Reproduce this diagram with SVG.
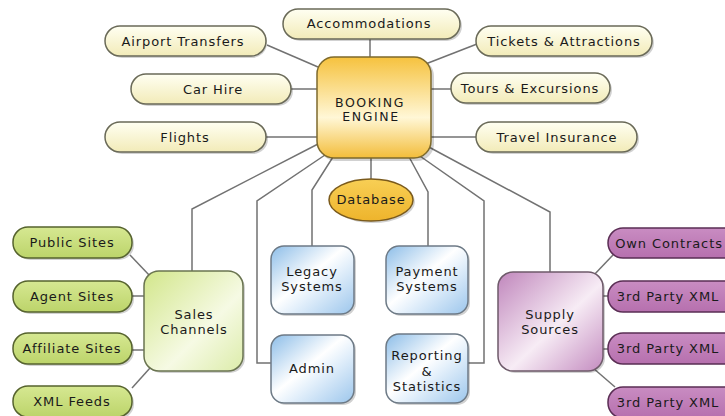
<svg xmlns="http://www.w3.org/2000/svg" width="725" height="416" viewBox="0 0 725 416">
<defs>
<linearGradient id="gPale" x1="0" y1="0" x2="0" y2="1"><stop offset="0" stop-color="#fffff2"/><stop offset="1" stop-color="#f2ebb8"/></linearGradient>
<linearGradient id="gEng" x1="0" y1="0" x2="0" y2="1"><stop offset="0" stop-color="#f6c23e"/><stop offset="0.6" stop-color="#fff7d6"/><stop offset="1" stop-color="#f3bd3a"/></linearGradient>
<linearGradient id="gDb" x1="0" y1="0" x2="0" y2="1"><stop offset="0" stop-color="#f8cf55"/><stop offset="1" stop-color="#eeb42c"/></linearGradient>
<linearGradient id="gGreen" x1="0" y1="0" x2="0" y2="1"><stop offset="0" stop-color="#d6e892"/><stop offset="1" stop-color="#bcd46a"/></linearGradient>
<linearGradient id="gSales" x1="0" y1="0" x2="1" y2="1"><stop offset="0" stop-color="#d2e68a"/><stop offset="0.6" stop-color="#f6fae4"/><stop offset="1" stop-color="#dcecaa"/></linearGradient>
<linearGradient id="gBlue" x1="0" y1="0" x2="1" y2="1"><stop offset="0" stop-color="#8cbde8"/><stop offset="0.45" stop-color="#ffffff"/><stop offset="0.6" stop-color="#e4f0fb"/><stop offset="1" stop-color="#9cc6ec"/></linearGradient>
<linearGradient id="gPurpleP" x1="0" y1="0" x2="0" y2="1"><stop offset="0" stop-color="#c98cc2"/><stop offset="1" stop-color="#b670ae"/></linearGradient>
<linearGradient id="gSupply" x1="0" y1="0" x2="1" y2="1"><stop offset="0" stop-color="#c086bc"/><stop offset="0.55" stop-color="#f7ecf5"/><stop offset="1" stop-color="#c48cc0"/></linearGradient>
</defs>
<style>
.c{fill:none;stroke:#727272;stroke-width:1.5}
.sh{fill:#000;opacity:0.18}
.pale{fill:url(#gPale);stroke:#6a6a58;stroke-width:1.5}
.green{fill:url(#gGreen);stroke:#56632e;stroke-width:1.5}
.purp{fill:url(#gPurpleP);stroke:#5a2e54;stroke-width:1.5}
.blue{fill:url(#gBlue);stroke:#6d7a86;stroke-width:1.5}
text{font-family:"DejaVu Sans",Verdana,sans-serif;font-size:13px;fill:#1a1a1a;text-anchor:middle;letter-spacing:0.9px}
.eng{font-size:12.5px;letter-spacing:1.6px}
</style>
<g id="connectors">
<line class="c" x1="267" y1="45" x2="318" y2="67"/>
<line class="c" x1="291" y1="89" x2="317" y2="89"/>
<line class="c" x1="266" y1="137" x2="317" y2="137"/>
<line class="c" x1="370" y1="39" x2="370" y2="57"/>
<line class="c" x1="423" y1="65" x2="477" y2="44"/>
<line class="c" x1="431" y1="89" x2="451" y2="89"/>
<line class="c" x1="431" y1="137" x2="476" y2="137"/>
<line class="c" x1="371" y1="158" x2="371" y2="179"/>
<polyline class="c" points="318,144 192,209 192,272"/>
<polyline class="c" points="325,155 257,201 257,363 271,363"/>
<polyline class="c" points="333,157 312,190 312,246"/>
<polyline class="c" points="408,155 428,192 428,246"/>
<polyline class="c" points="417,154 484,201 484,363 468,363"/>
<polyline class="c" points="427,146 550,212 550,272"/>
<line class="c" x1="130" y1="255" x2="150" y2="276"/>
<line class="c" x1="132" y1="296" x2="144" y2="296"/>
<line class="c" x1="132" y1="350" x2="144" y2="350"/>
<line class="c" x1="132" y1="388" x2="150" y2="368"/>
<line class="c" x1="592" y1="277" x2="613" y2="255"/>
<line class="c" x1="603" y1="296" x2="609" y2="296"/>
<line class="c" x1="603" y1="349" x2="609" y2="349"/>
<line class="c" x1="593" y1="368" x2="615" y2="387"/>
</g>
<g id="engine">
<rect class="sh" x="319" y="59" width="115" height="102" rx="17"/>
<rect x="317" y="57" width="114" height="101" rx="17" fill="url(#gEng)" stroke="#7e6a2c" stroke-width="1.5"/>
<text class="eng" x="370" y="107">BOOKING</text>
<text class="eng" x="371" y="121">ENGINE</text>
</g>
<g id="accommodations">
<rect class="sh" x="285" y="11" width="177" height="30" rx="15"/>
<rect class="pale" x="283" y="9" width="177" height="30" rx="15"/>
<text x="369" y="28">Accommodations</text>
</g>
<g id="airport">
<rect class="sh" x="107" y="28" width="160" height="30" rx="15"/>
<rect class="pale" x="105" y="26" width="161" height="30" rx="15"/>
<text x="183" y="46">Airport Transfers</text>
</g>
<g id="carhire">
<rect class="sh" x="133" y="76" width="160" height="30" rx="15"/>
<rect class="pale" x="131" y="74" width="160" height="30" rx="15"/>
<text x="213" y="94">Car Hire</text>
</g>
<g id="flights">
<rect class="sh" x="107" y="124" width="161" height="30" rx="15"/>
<rect class="pale" x="105" y="122" width="161" height="30" rx="15"/>
<text x="185" y="142">Flights</text>
</g>
<g id="tickets">
<rect class="sh" x="478" y="28" width="176" height="30" rx="15"/>
<rect class="pale" x="476" y="26" width="176" height="30" rx="15"/>
<text x="564" y="46">Tickets &amp; Attractions</text>
</g>
<g id="tours">
<rect class="sh" x="453" y="75" width="159" height="30" rx="15"/>
<rect class="pale" x="451" y="73" width="159" height="30" rx="15"/>
<text x="530" y="93">Tours &amp; Excursions</text>
</g>
<g id="insurance">
<rect class="sh" x="478" y="124" width="161" height="30" rx="15"/>
<rect class="pale" x="476" y="122" width="161" height="30" rx="15"/>
<text x="557" y="142">Travel Insurance</text>
</g>
<g id="database">
<ellipse class="sh" cx="373" cy="202" rx="42" ry="21"/>
<ellipse cx="371" cy="200" rx="42" ry="21" fill="url(#gDb)" stroke="#7a5a1c" stroke-width="1.5"/>
<text x="371" y="204">Database</text>
</g>
<g id="legacy">
<rect class="sh" x="273" y="248" width="83" height="68" rx="13"/>
<rect class="blue" x="271" y="246" width="83" height="68" rx="13"/>
<text x="312" y="276">Legacy</text>
<text x="312" y="291">Systems</text>
</g>
<g id="admin">
<rect class="sh" x="273" y="337" width="83" height="68" rx="13"/>
<rect class="blue" x="271" y="335" width="83" height="68" rx="13"/>
<text x="312" y="373">Admin</text>
</g>
<g id="payment">
<rect class="sh" x="388" y="248" width="82" height="68" rx="13"/>
<rect class="blue" x="386" y="246" width="82" height="68" rx="13"/>
<text x="427" y="276">Payment</text>
<text x="427" y="291">Systems</text>
</g>
<g id="reporting">
<rect class="sh" x="388" y="336" width="82" height="69" rx="13"/>
<rect class="blue" x="386" y="334" width="82" height="69" rx="13"/>
<text x="427" y="360">Reporting</text>
<text x="427" y="376">&amp;</text>
<text x="427" y="391">Statistics</text>
</g>
<g id="sales">
<rect class="sh" x="146" y="273" width="99" height="100" rx="15"/>
<rect x="144" y="271" width="99" height="100" rx="15" fill="url(#gSales)" stroke="#6a7450" stroke-width="1.5"/>
<text x="194" y="319">Sales</text>
<text x="194" y="334">Channels</text>
</g>
<g id="public">
<rect class="sh" x="15" y="229" width="119" height="31" rx="15"/>
<rect class="green" x="13" y="227" width="119" height="31" rx="15"/>
<text x="72" y="247">Public Sites</text>
</g>
<g id="agent">
<rect class="sh" x="15" y="283" width="119" height="31" rx="15"/>
<rect class="green" x="13" y="281" width="119" height="31" rx="15"/>
<text x="72" y="301">Agent Sites</text>
</g>
<g id="affiliate">
<rect class="sh" x="15" y="335" width="119" height="31" rx="15"/>
<rect class="green" x="13" y="333" width="119" height="31" rx="15"/>
<text x="72" y="353">Affiliate Sites</text>
</g>
<g id="xmlfeeds">
<rect class="sh" x="15" y="388" width="119" height="31" rx="15"/>
<rect class="green" x="13" y="386" width="119" height="31" rx="15"/>
<text x="72" y="406">XML Feeds</text>
</g>
<g id="supply">
<rect class="sh" x="500" y="274" width="105" height="99" rx="15"/>
<rect x="498" y="272" width="105" height="99" rx="15" fill="url(#gSupply)" stroke="#6e5a6a" stroke-width="1.5"/>
<text x="550" y="319">Supply</text>
<text x="550" y="334">Sources</text>
</g>
<g id="own">
<rect class="purp" x="608" y="228" width="135" height="30" rx="15"/>
<text x="669" y="248">Own Contracts</text>
</g>
<g id="xml1">
<rect class="purp" x="608" y="281" width="135" height="31" rx="15"/>
<text x="668" y="301">3rd Party XML</text>
</g>
<g id="xml2">
<rect class="purp" x="608" y="333" width="135" height="31" rx="15"/>
<text x="668" y="353">3rd Party XML</text>
</g>
<g id="xml3">
<rect class="purp" x="608" y="387" width="135" height="31" rx="15"/>
<text x="668" y="407">3rd Party XML</text>
</g>
</svg>
